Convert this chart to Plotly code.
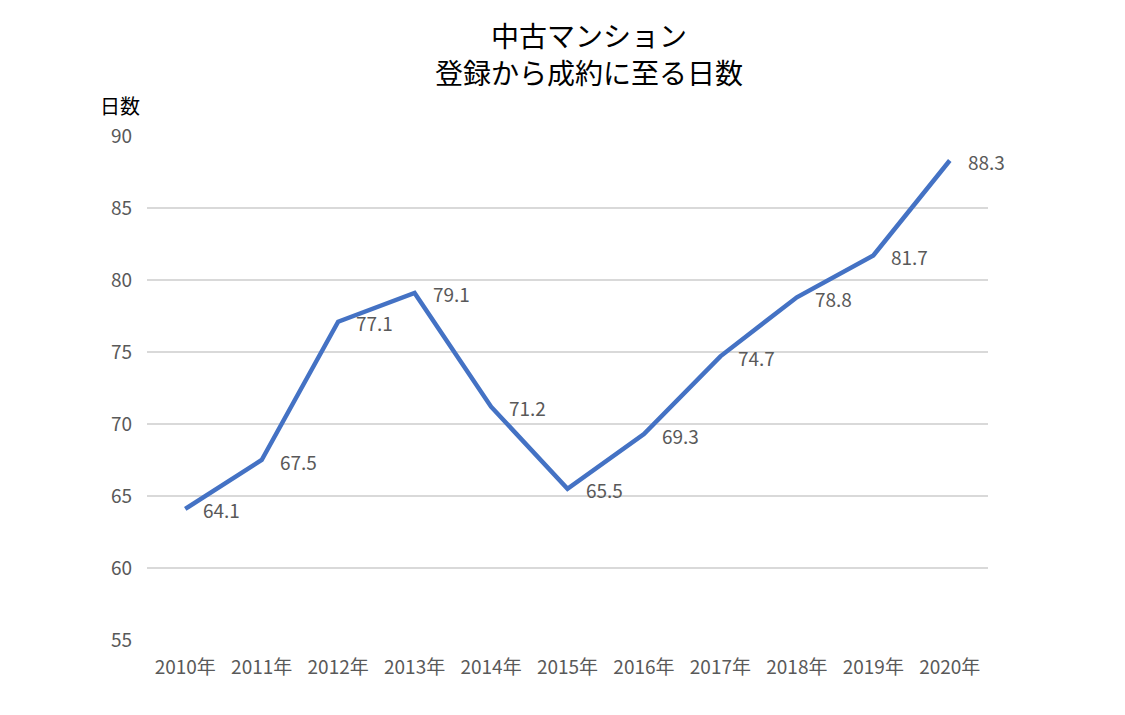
import plotly.graph_objects as go

years = ["2010年", "2011年", "2012年", "2013年", "2014年", "2015年", "2016年", "2017年", "2018年", "2019年", "2020年"]
days = [64.1, 67.5, 77.1, 79.1, 71.2, 65.5, 69.3, 74.7, 78.8, 81.7, 88.3]
y_ticks = [55, 60, 65, 70, 75, 80, 85, 90]
title_lines = ["中古マンション", "登録から成約に至る日数"]
y_title = "日数"

FONT = "Noto Sans CJK JP, Noto Sans, sans-serif"
GREY = "#595959"

W, H = 1125, 715
L, R, T, B = 139, 145, 128, 83
pw, ph = W - L - R, H - T - B


def px_x(x):
    return (x - L) / pw


def px_y(y):
    return (H - B - y) / ph


fig = go.Figure()
fig.add_trace(go.Scatter(
    x=years, y=days, mode="lines",
    line=dict(color="#4472C4", width=4.5),
    hoverinfo="x+y", showlegend=False,
))

for x, y in zip(years, days):
    fig.add_annotation(x=x, y=y, text=f"{y:.1f}", showarrow=False,
                       xanchor="left", yanchor="middle", xshift=16, yshift=-1,
                       font=dict(family=FONT, size=19, color=GREY))

for line, yc in zip(title_lines, [27, 64]):
    fig.add_annotation(x=px_x(581), y=px_y(yc), xref="paper", yref="paper",
                       text=line, showarrow=False, borderpad=0,
                       xanchor="center", yanchor="middle",
                       font=dict(family=FONT, size=28, color="#000000"))
fig.add_annotation(x=px_x(112), y=px_y(97), xref="paper", yref="paper",
                   text=y_title, showarrow=False, xanchor="center", yanchor="middle",
                   borderpad=0,
                   font=dict(family=FONT, size=20, color="#000000"))

fig.update_layout(
    width=W, height=H,
    margin=dict(l=L, r=R, t=T, b=B, autoexpand=False),
    plot_bgcolor="white", paper_bgcolor="white",
    font=dict(family=FONT, color=GREY),
    xaxis=dict(type="category", range=[-0.5, len(years) - 0.5], showgrid=False,
               showline=False, ticks="", ticklabelstandoff=14,
               tickfont=dict(size=19, color=GREY)),
    yaxis=dict(range=[55, 90], tickvals=y_ticks, showgrid=True, gridcolor="#D9D9D9",
               gridwidth=2, zeroline=False, showline=False, ticks="",
               ticklabelstandoff=14,
               tickfont=dict(size=19, color=GREY)),
)

fig.write_html("out.html")
